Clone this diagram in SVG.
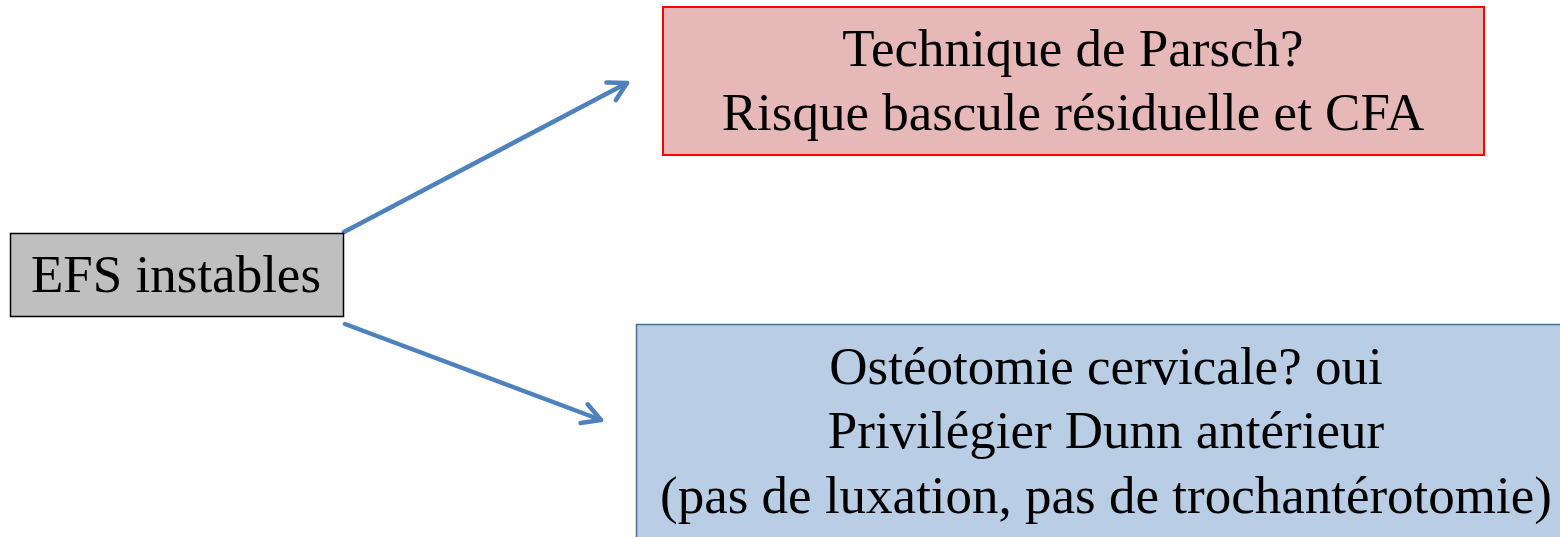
<svg xmlns="http://www.w3.org/2000/svg" width="1560" height="537" viewBox="0 0 1560 537">
  <style>
    .lbl { font-family: "Liberation Serif", "Times New Roman", serif; font-size: 53px; fill: #000; text-anchor: middle; }
    .conn { stroke: #4f81bd; stroke-width: 4.5; fill: none; stroke-linecap: round; }
    .chev { stroke: #4f81bd; stroke-width: 4.5; fill: none; stroke-linecap: round; stroke-linejoin: round; }
  </style>
  <defs>
    <!-- open chevron arrowhead, tip at the line end -->
    <marker id="chevron" viewBox="-24 -14 28 28" refX="0" refY="0" markerWidth="28" markerHeight="28" markerUnits="userSpaceOnUse" orient="auto">
      <path class="chev" d="M -18 -10 L 0 0 L -18 10"/>
    </marker>
  </defs>
  <rect width="1560" height="537" fill="#ffffff"/>

  <g id="connectors">
    <line class="conn" x1="344" y1="232" x2="627" y2="83" marker-end="url(#chevron)"/>
    <line class="conn" x1="345" y1="324" x2="601" y2="420" marker-end="url(#chevron)"/>
  </g>

  <g id="node-efs">
    <rect x="10.5" y="233.5" width="333" height="83" fill="#bfbfbf" stroke="#000" stroke-width="1.5"/>
    <text class="lbl" x="176" y="292">EFS instables</text>
  </g>

  <g id="node-parsch">
    <rect x="663" y="7" width="821" height="148" fill="#e6b9b8" stroke="#ff0000" stroke-width="2"/>
    <text class="lbl" x="1073" y="66">Technique de Parsch?</text>
    <text class="lbl" x="1073" y="130">Risque bascule résiduelle et CFA</text>
  </g>

  <g id="node-osteotomie">
    <rect x="636.5" y="324.5" width="940" height="230" fill="#b9cde5" stroke="#41719c" stroke-width="1.5"/>
    <text class="lbl" x="1106" y="384">Ostéotomie cervicale? oui</text>
    <text class="lbl" x="1106" y="448">Privilégier Dunn antérieur</text>
    <text class="lbl" x="1106" y="513">(pas de luxation, pas de trochantérotomie)</text>
  </g>
</svg>
